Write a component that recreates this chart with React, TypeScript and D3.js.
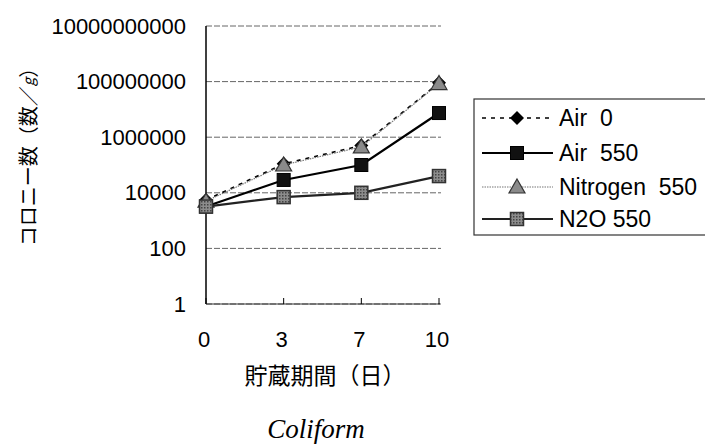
import React from "react";
import * as d3 from "d3";

const days = ["0", "3", "7", "10"];
const seriesNames = ["Air  0", "Air  550", "Nitrogen  550", "N2O 550"];
const air0 = [5500, 110000, 500000, 90000000];
const air550 = [3200, 29000, 100000, 7400000];
const nitrogen550 = [5000, 100000, 450000, 85000000];
const n2o550 = [3200, 7000, 10000, 40000];
const yTicks = [1, 100, 10000, 1000000, 100000000, 10000000000];

const W = 705;
const H = 448;
const left = 206;
const right = 439;
const top = 26;
const bottom = 304;
const sans = "'Liberation Sans', Arial, sans-serif";
const cjk = "'Noto Sans CJK JP', sans-serif";

type Style = {
  stroke: string;
  width: number;
  dash?: string;
  marker: "diamond" | "square" | "triangle" | "hatch";
};

const styles: Style[] = [
  { stroke: "#000", width: 1.6, dash: "4,5", marker: "diamond" },
  { stroke: "#000", width: 2.2, marker: "square" },
  { stroke: "#777", width: 1.2, dash: "1.5,1", marker: "triangle" },
  { stroke: "#222", width: 2.2, marker: "hatch" },
];

function Marker({ kind, x, y }: { kind: Style["marker"]; x: number; y: number }) {
  if (kind === "diamond") {
    const s = 7;
    return <path d={`M${x},${y - s}L${x + s},${y}L${x},${y + s}L${x - s},${y}Z`} fill="#000" />;
  }
  if (kind === "square") {
    return <rect x={x - 6.5} y={y - 6.5} width={13} height={13} fill="#111" stroke="#000" />;
  }
  if (kind === "triangle") {
    const s = 8;
    return (
      <path
        d={`M${x},${y - s}L${x + s},${y + s * 0.75}L${x - s},${y + s * 0.75}Z`}
        fill="#8a8a8a"
        stroke="#333"
        strokeWidth={1.2}
      />
    );
  }
  return (
    <g>
      <rect x={x - 6.5} y={y - 6.5} width={13} height={13} fill="url(#hatch)" stroke="#333" strokeWidth={1.5} />
    </g>
  );
}

export default function App() {
  const x = d3.scalePoint<string>().domain(days).range([left, right]);
  const y = d3.scaleLog().domain([1, 1e10]).range([bottom, top]);
  const data = [air0, air550, nitrogen550, n2o550];
  const line = d3
    .line<number>()
    .x((_, i) => x(days[i]) as number)
    .y((d) => y(d));

  const legX = 474;
  const legY = 99;
  const legRows = [118, 153, 187, 219];

  return (
    <svg width={W} height={H} style={{ position: "absolute", left: 0, top: 0, background: "#fff" }}>
      <defs>
        <pattern id="hatch" width="3" height="3" patternUnits="userSpaceOnUse">
          <rect width="3" height="3" fill="#8c8c8c" />
          <rect width="1.5" height="1.5" fill="#444" />
        </pattern>
      </defs>
      <rect width={W} height={H} fill="#fff" />
      {yTicks.map((t) => (
        <line
          key={"g" + t}
          x1={left}
          x2={right + 2}
          y1={y(t)}
          y2={y(t)}
          stroke="#666"
          strokeWidth={1}
          strokeDasharray="6,2"
        />
      ))}
      <line x1={left} x2={left} y1={top} y2={bottom} stroke="#000" strokeWidth={1.5} />
      <line x1={left} x2={right + 1} y1={bottom} y2={bottom} stroke="#333" strokeWidth={1.2} />
      {days.map((d) => (
        <line key={"t" + d} x1={x(d)} x2={x(d)} y1={bottom} y2={bottom - 6} stroke="#000" strokeWidth={1} />
      ))}
      {yTicks.map((t) => (
        <text
          key={"yl" + t}
          x={186}
          y={y(t)}
          textAnchor="end"
          dominantBaseline="central"
          fontFamily={sans}
          fontSize={22}
          fill="#000"
        >
          {String(t)}
        </text>
      ))}
      {days.map((d) => (
        <text
          key={"xl" + d}
          x={(x(d) as number) - 2}
          y={339}
          textAnchor="middle"
          dominantBaseline="central"
          fontFamily={sans}
          fontSize={22}
          fill="#000"
        >
          {d}
        </text>
      ))}
      <text x={325} y={374} textAnchor="middle" dominantBaseline="central" fontFamily={cjk} fontSize={23} fill="#000">
        貯蔵期間（日）
      </text>
      <text
        transform="translate(27,152) rotate(-90)"
        textAnchor="middle"
        dominantBaseline="central"
        fontFamily={cjk}
        fontSize={20}
        fill="#000"
      >
        コロニー数（数／<tspan fontStyle="italic" fontSize={15}>g</tspan>）
      </text>
      <text x={316} y={438} textAnchor="middle" fontFamily="'Liberation Serif', 'Times New Roman', serif" fontStyle="italic" fontSize={27} fill="#000">
        Coliform
      </text>
      {data.map((vals, si) => (
        <g key={"s" + si}>
          <path
            d={line(vals) || ""}
            fill="none"
            stroke={styles[si].stroke}
            strokeWidth={styles[si].width}
            strokeDasharray={styles[si].dash}
          />
          {vals.map((v, i) => (
            <Marker key={i} kind={styles[si].marker} x={x(days[i]) as number} y={y(v)} />
          ))}
        </g>
      ))}
      <rect x={legX} y={legY} width={260} height={136} fill="#fff" stroke="#333" strokeWidth={1.2} />
      {seriesNames.map((name, i) => (
        <g key={"l" + i}>
          <line
            x1={482}
            x2={553}
            y1={legRows[i]}
            y2={legRows[i]}
            stroke={styles[i].stroke}
            strokeWidth={styles[i].width}
            strokeDasharray={styles[i].dash}
          />
          <Marker kind={styles[i].marker} x={517} y={legRows[i]} />
          <text
            x={559}
            y={legRows[i]}
            dominantBaseline="central"
            fontFamily={sans}
            fontSize={23}
            fill="#000"
            style={{ whiteSpace: "pre" }}
          >
            {name}
          </text>
        </g>
      ))}
    </svg>
  );
}
